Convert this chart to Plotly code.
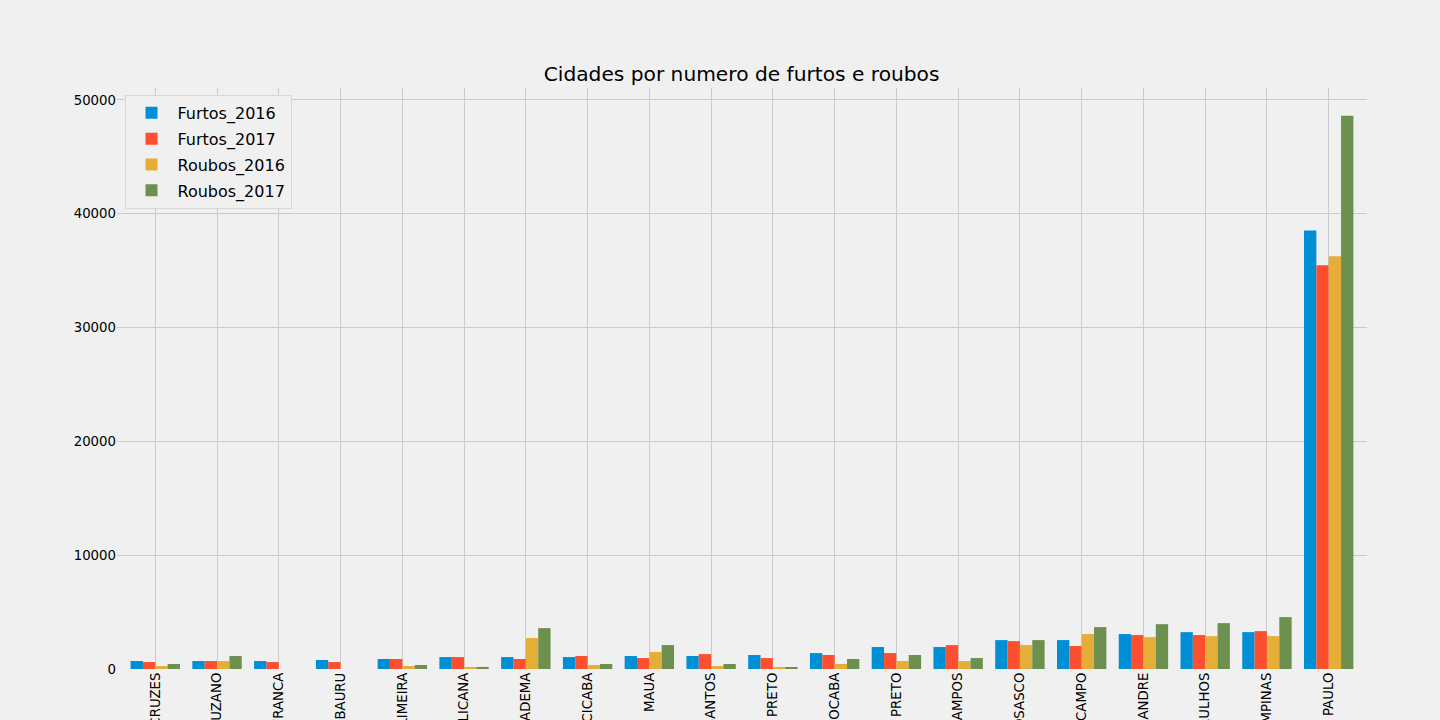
import plotly.graph_objects as go

# cidades ordenadas por furtos 2016
cidades = ["MOGI DAS CRUZES", "SUZANO", "FRANCA", "BAURU", "LIMEIRA",
           "PAULICANA", "DIADEMA", "PIRACICABA", "MAUA", "SANTOS",
           "SAO JOSE DO RIO PRETO", "SOROCABA", "RIBEIRAO PRETO",
           "SAO JOSE DOS CAMPOS", "OSASCO", "SAO BERNARDO DO CAMPO",
           "SANTO ANDRE", "GUARULHOS", "CAMPINAS", "SAO PAULO"]

furtos_2016 = [700, 700, 700, 790, 880, 1050, 1050, 1050, 1140, 1140,
               1230, 1400, 1930, 1930, 2540, 2540, 3070, 3240, 3240, 38540]
furtos_2017 = [610, 700, 610, 610, 880, 1050, 880, 1140, 960, 1310,
               960, 1230, 1400, 2100, 2450, 2020, 2980, 2980, 3330, 35480]
roubos_2016 = [260, 700, 0, 0, 260, 90, 2720, 350, 1490, 260,
               90, 440, 700, 700, 2100, 3070, 2800, 2890, 2890, 36270]
roubos_2017 = [440, 1140, 0, 0, 350, 180, 3590, 440, 2100, 440,
               90, 880, 1230, 960, 2540, 3680, 3940, 4030, 4560, 48620]

series = {
    "Furtos_2016": furtos_2016,
    "Furtos_2017": furtos_2017,
    "Roubos_2016": roubos_2016,
    "Roubos_2017": roubos_2017,
}
cores = ["#008fd5", "#fc4f30", "#e5ae38", "#6d904f"]  # paleta fivethirtyeight

fig = go.Figure()
for (nome, valores), cor in zip(series.items(), cores):
    fig.add_trace(go.Bar(x=cidades, y=valores, name=nome, marker_color=cor,
                         marker_line_width=0, legendgroup=nome))

fig.update_layout(
    width=1440, height=720,
    barmode="group", bargap=0.2, bargroupgap=0,
    paper_bgcolor="#f0f0f0", plot_bgcolor="#f0f0f0",
    font=dict(family="DejaVu Sans", size=13.3, color="#000000"),
    margin=dict(l=117, r=73, t=88, b=51),
    title=dict(text="Cidades por numero de furtos e roubos",
               font=dict(size=20.2, color="#000000"),
               x=0.515, xanchor="center", y=1 - 74 / 720, yanchor="middle"),
    legend=dict(x=0.006, y=0.988, xanchor="left", yanchor="top",
                bgcolor="#f0f0f0", bordercolor="#d8d8d8", borderwidth=1,
                font=dict(size=16), tracegroupgap=2, itemwidth=42),
)
fig.update_xaxes(range=[-0.62, 19.62], showgrid=True, gridcolor="#cbcbcb",
                 gridwidth=1.2, tickangle=-90, automargin=False,
                 showline=False, zeroline=False, ticks="")
fig.update_yaxes(range=[0, 51050], dtick=10000, tickformat="d",
                 showgrid=True, gridcolor="#cbcbcb", gridwidth=1.2,
                 automargin=False, zeroline=False, showline=False, ticks="")

# tira a margem padrao do body para a figura ocupar a janela toda
fig.write_html("out.html", config={"displayModeBar": False},
               post_script="document.body.style.margin='0';")
